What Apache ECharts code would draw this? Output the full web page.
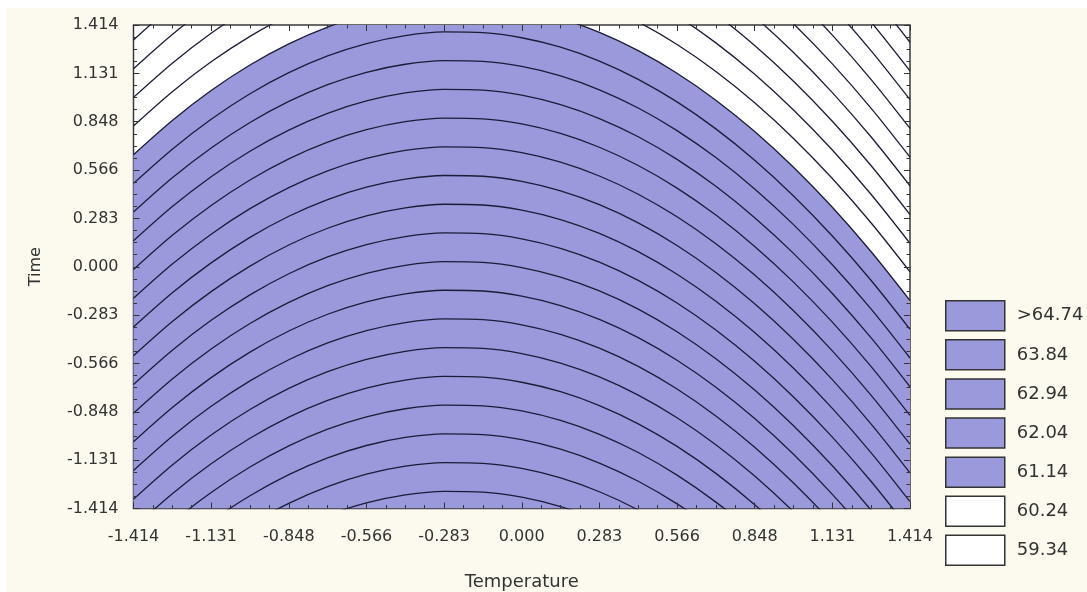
<!DOCTYPE html>
<html><head><meta charset="utf-8">
<script src="https://cdn.jsdelivr.net/npm/echarts@6/dist/echarts.min.js"></script>
<style>
html,body{margin:0;padding:0;background:#fff;}
#wrap{position:relative;width:1087px;height:592px;background:#fff;overflow:hidden;}
#cream{position:absolute;left:6px;top:8px;right:0;bottom:0;background:#fcf9ef;}
#chart{position:absolute;left:0;top:0;width:1087px;height:592px;}
</style></head><body>
<div id="wrap"><div id="cream"></div><div id="chart"></div></div>
<script>
// ---------- data ----------
const tempTickLabels = ['-1.414','-1.131','-0.848','-0.566','-0.283','0.000','0.283','0.566','0.848','1.131','1.414'];
const timeTickLabels = ['-1.414','-1.131','-0.848','-0.566','-0.283','0.000','0.283','0.566','0.848','1.131','1.414'];
const legendLabels = ['>64.74','63.84','62.94','62.04','61.14','60.24','59.34'];
// Temperature positions along each contour line
const shapeTemp = [-1.414,-1.2726,-1.1312,-0.9898,-0.8484,-0.707,-0.5656,-0.4242,-0.2828,-0.1414,0,
                   0.1414,0.2828,0.4242,0.5656,0.707,0.8484,0.9898,1.1312,1.2726,1.414];
// how far (in Time units) each contour lies below its apex at those Temperature positions
const shapeDrop = [0.8873,0.6871,0.5124,0.3633,0.2398,0.1418,0.0695,0.0226,0.0014,0.0057,0.0356,
                   0.0911,0.1721,0.2787,0.4109,0.5686,0.7519,0.9608,1.1952,1.4552,1.7408];
// Time value at the apex of every contour line (top to bottom)
const contourApexTime = [3.054,2.886,2.718,2.550,2.382,2.214,2.046,1.878,1.711,1.543,1.375,1.207,1.039,
                         0.871,0.703,0.535,0.367,0.199,0.031,-0.136,-0.304,-0.472,-0.640,-0.808,-0.976,-1.144,-1.312];
const boundaryIndex = 9; // contour separating the white levels from the coloured ones

// ---------- styles ----------
const PURPLE = '#9999db';
const WHITE = '#ffffff';
const legendFill = [PURPLE, PURPLE, PURPLE, PURPLE, PURPLE, WHITE, WHITE];
const FONT = 'DejaVu Sans';
const TXT = '#333333';

function lineData(apex){
  return shapeTemp.map((T, i) => [T, +(apex - shapeDrop[i]).toFixed(4)]);
}

function axis(labels, showLabels, pos, extra){
  return Object.assign({
    type: 'value', min: -1.414, max: 1.414, interval: 0.2828, position: pos, z: 10,
    axisLine: {show: false, onZero: false},
    axisTick: {show: true, inside: true, length: 6, lineStyle: {color: '#333', width: 1}},
    minorTick: {show: true, splitNumber: 4, length: 3.5, lineStyle: {color: '#333', width: 1}},
    splitLine: {show: false}, minorSplitLine: {show: false},
    axisLabel: {
      show: showLabels, fontFamily: FONT, fontSize: 16, color: TXT,
      formatter: v => labels[Math.round((v + 1.414) / 0.2828)]
    }
  }, extra || {});
}

const series = [];
// coloured region (below the boundary contour)
series.push({
  type: 'line', name: 'fill', data: lineData(contourApexTime[boundaryIndex]),
  smooth: 0.3, symbol: 'none', silent: true, z: 2,
  lineStyle: {width: 0}, areaStyle: {color: PURPLE, opacity: 1, origin: 'start'},
  xAxisIndex: 0, yAxisIndex: 0
});
// contour lines
contourApexTime.forEach((a, k) => {
  series.push({
    type: 'line', name: 'c' + k, data: lineData(a), smooth: 0.3, symbol: 'none', silent: true, z: 3,
    lineStyle: {color: '#1c1c38', width: 1.3}, xAxisIndex: 0, yAxisIndex: 0
  });
});
// legend entries
legendLabels.forEach((lab, i) => {
  series.push({
    type: 'bar', name: lab, data: [], xAxisIndex: 0, yAxisIndex: 0,
    itemStyle: {color: legendFill[i], borderColor: '#333', borderWidth: 1.5}
  });
});

const chart = echarts.init(document.getElementById('chart'), null, {renderer: 'canvas'});
chart.setOption({
  animation: false,
  backgroundColor: 'transparent',
  grid: {left: 133.5, right: 177, top: 25, bottom: 83.5, show: true, outerBoundsMode: 'none',
         containLabel: false,
         backgroundColor: '#ffffff', borderColor: '#3a3a3a', borderWidth: 1.5},
  xAxis: [
    axis(tempTickLabels, true, 'bottom', {
      name: 'Temperature', nameLocation: 'middle', nameGap: 65,
      nameTextStyle: {fontFamily: FONT, fontSize: 18, color: TXT},
      axisLabel: {show: true, fontFamily: FONT, fontSize: 16, color: TXT, margin: 20,
                  formatter: v => tempTickLabels[Math.round((v + 1.414) / 0.2828)]}
    }),
    axis(tempTickLabels, false, 'top')
  ],
  yAxis: [
    axis(timeTickLabels, true, 'left', {
      name: 'Time', nameLocation: 'middle', nameGap: 90,
      nameTextStyle: {fontFamily: FONT, fontSize: 16, color: TXT},
      axisLabel: {show: true, fontFamily: FONT, fontSize: 16, color: TXT, margin: 15,
                  formatter: v => timeTickLabels[Math.round((v + 1.414) / 0.2828)]}
    }),
    axis(timeTickLabels, false, 'right')
  ],
  legend: {
    data: legendLabels, orient: 'vertical', left: 945, top: 300, padding: 0,
    itemWidth: 59, itemHeight: 30, itemGap: 7.6, icon: 'rect', selectedMode: false,
    itemStyle: {borderColor: '#333', borderWidth: 1.5},
    textStyle: {fontFamily: FONT, fontSize: 18, color: TXT, padding: [0, 0, 0, 7]}
  },
  series: series
});
</script>
</body></html>
